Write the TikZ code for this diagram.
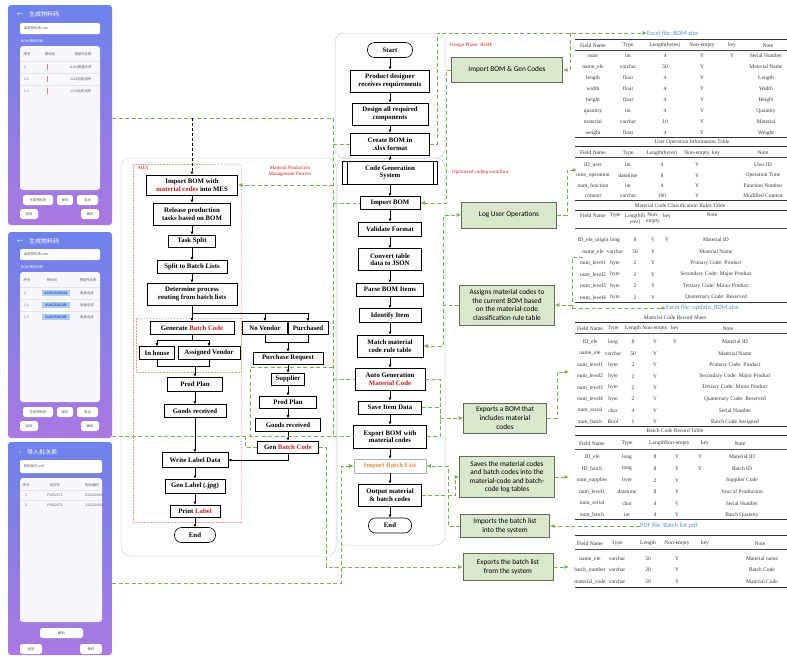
\documentclass[tikz,border=0pt]{standalone}
\usepackage{fontspec}
\setmainfont{Liberation Serif}
\newfontfamily\notesans{Carlito}
\newfontfamily\cjk{Noto Sans CJK SC}
\usetikzlibrary{arrows.meta,positioning}

\definecolor{linkgreen}{RGB}{120,178,80}
\definecolor{notefill}{RGB}{218,231,204}
\definecolor{noteedge}{RGB}{96,112,84}
\definecolor{tagred}{RGB}{196,30,30}
\definecolor{mesdot}{RGB}{232,160,150}
\definecolor{regionblue}{RGB}{196,210,224}
\definecolor{fileblue}{RGB}{90,150,210}
\definecolor{batchorange}{RGB}{226,140,60}
\definecolor{tabgray}{RGB}{55,55,55}
\definecolor{phonetop}{RGB}{110,130,235}
\definecolor{phonebot}{RGB}{170,120,225}
\definecolor{codeblue}{RGB}{170,205,240}

\tikzset{
  flowbox/.style={draw=black,line width=0.6pt,fill=white,align=center,inner sep=0.5pt,font=\bfseries\fontsize{6.8}{7.6}\selectfont},
  termbox/.style={flowbox,rounded corners=7pt},
  notebox/.style={draw=noteedge,fill=notefill,line width=0.7pt,align=center,inner sep=1pt,font=\notesans\fontsize{7.3}{8.6}\selectfont},
  flow/.style={-{Latex[length=3pt,width=2.8pt]},line width=0.6pt},
  link/.style={draw=linkgreen,line width=0.7pt,dash pattern=on 4pt off 2.5pt},
  linkarrow/.style={link,-{Latex[length=4.5pt,width=4pt]}},
  region/.style={draw=regionblue,line width=0.5pt,rounded corners=9pt},
  mesframe/.style={draw=mesdot,line width=0.6pt,dash pattern=on 1.5pt off 1.5pt},
  tabcell/.style={inner sep=0pt,text=tabgray,align=center,font=\fontsize{5.5}{6}\selectfont},
  tabrule/.style={draw=black!80,line width=0.8pt},
  tabthin/.style={draw=black!70,line width=0.4pt},
  redtag/.style={inner sep=0pt,text=tagred,font=\fontsize{5}{5.8}\selectfont,align=center},
  filetag/.style={inner sep=0pt,anchor=west,text=fileblue,font=\notesans\fontsize{6.5}{7.5}\selectfont},
  phone/.style={top color=phonetop,bottom color=phonebot,rounded corners=3pt},
  phonebtn/.style={fill=white,rounded corners=2.5pt},
  phonetext/.style={inner sep=0pt,text=black!65,font=\cjk\fontsize{3.4}{4}\selectfont},
  phonehead/.style={inner sep=0pt,anchor=west,text=white,font=\cjk\fontsize{6}{7}\selectfont}
}

\begin{document}
\begin{tikzpicture}[x=1pt,y=-1pt]
\path[use as bounding box] (0,0) rectangle (787,657);
\fill[white] (0,0) rectangle (787,657);
\clip (0,0) rectangle (787,657);

% phone 1
\shade[phone] (8,5) rectangle (112,225);
\node[phonehead] (p1head) at (17,14) {←\hspace{6pt}生成物料码};
\fill[white,rounded corners=2pt] (20,23) rectangle (100,34);
\node[phonetext,anchor=west] (p1file) at (24,28.5) {装配物料表.xlsx};
\node[phonetext,anchor=west,text=white] (p1cap) at (21,41) {BOM 物料列表};
\fill[white!94!phonetop,rounded corners=3pt] (20,46) rectangle (100,190);
\node[phonetext] (p1h1) at (27,54) {序号};
\node[phonetext] (p1h2) at (50,54) {物料码};
\node[phonetext] (p1h3) at (83,54) {零部件名称};
\foreach \y/\n/\p [count=\i] in {67/1/A101底盘总成,79/1.1/1101前轮组件,91/1.2/1102后轮组件}{
  \draw[black!10] (20,\y-6) -- (100,\y-6);
  \node[phonetext,anchor=west] (p1n\i) at (24,\y) {\n};
  \fill[red!55] (46.5,\y-3) rectangle (48,\y+3);
  \node[phonetext,anchor=west] (p1p\i) at (70,\y) {\p};
}
\fill[phonebtn] (23,195) rectangle (53,205); \node[phonetext] (p1b1) at (38,200) {生成物料码};
\fill[phonebtn] (57,195) rectangle (73,205); \node[phonetext] (p1b2) at (65,200) {保存};
\fill[phonebtn] (77,195) rectangle (98,205); \node[phonetext] (p1b3) at (87.5,200) {导出};
\fill[phonebtn] (20,209) rectangle (38,219); \node[phonetext] (p1b4) at (29,214) {返回};
\fill[phonebtn] (81,209) rectangle (99,219); \node[phonetext] (p1b5) at (90,214) {确定};

% phone 2
\shade[phone] (8,232) rectangle (112,438);
\node[phonehead] (p2head) at (17,241) {←\hspace{6pt}生成物料码};
\fill[white,rounded corners=2pt] (20,249) rectangle (100,260);
\node[phonetext,anchor=west] (p2file) at (24,254.5) {装配物料表.xlsx};
\node[phonetext,anchor=west,text=white] (p2cap) at (21,267) {BOM 物料列表};
\fill[white!94!phonetop,rounded corners=3pt] (20,272) rectangle (100,402);
\node[phonetext] (p2h1) at (27,280) {序号};
\node[phonetext] (p2h2) at (52,280) {物料码};
\node[phonetext] (p2h3) at (88,280) {零部件名称};
\foreach \y/\n/\c [count=\i] in {293/1/A0101010100A,305/1.1/01A0250001B,317/1.2/01A0250002B}{
  \draw[black!10] (20,\y-6) -- (100,\y-6);
  \node[phonetext,anchor=west] (p2n\i) at (24,\y) {\n};
  \fill[codeblue] (42,\y-3) rectangle (70,\y+3);
  \node[phonetext,text=blue!60!black] (p2c\i) at (56,\y) {\c};
  \node[phonetext,anchor=west] (p2p\i) at (80,\y) {底盘总成};
}
\fill[phonebtn] (23,407) rectangle (53,417); \node[phonetext] (p2b1) at (38,412) {生成物料码};
\fill[phonebtn] (57,407) rectangle (73,417); \node[phonetext] (p2b2) at (65,412) {保存};
\fill[phonebtn] (77,407) rectangle (98,417); \node[phonetext] (p2b3) at (87.5,412) {导出};
\fill[phonebtn] (20,421) rectangle (38,431); \node[phonetext] (p2b4) at (29,426) {返回};
\fill[phonebtn] (81,421) rectangle (99,431); \node[phonetext] (p2b5) at (90,426) {确定};

% phone 3
\shade[phone] (8,442) rectangle (112,655);
\node[phonehead] (p3head) at (19,452) {‹\hspace{6pt}导入批次表};
\fill[white,rounded corners=2pt] (20,460) rectangle (102,473);
\node[phonetext,anchor=west] (p3file) at (24,466.5) {物料批次.pdf};
\fill[white!94!phonetop,rounded corners=3pt] (20,478) rectangle (102,622);
\node[phonetext] (p3h1) at (26,485) {序号};
\node[phonetext] (p3h2) at (55,485) {批次号};
\node[phonetext] (p3h3) at (92,485) {物料编码};
\foreach \y/\n [count=\i] in {495/1,505/2}{
  \draw[black!10] (20,\y-5) -- (102,\y-5);
  \node[phonetext] (p3n\i) at (26,\y) {\n};
  \node[phonetext] (p3b\i) at (55,\y) {P1602571};
  \node[phonetext,anchor=west] (p3m\i) at (85,\y) {2302290001};
}
\fill[phonebtn] (40,628) rectangle (83,638); \node[phonetext] (p3k1) at (61.5,633) {解析};
\fill[phonebtn] (20,644) rectangle (42,654); \node[phonetext] (p3k2) at (31,649) {返回};
\fill[phonebtn] (80,644) rectangle (102,654); \node[phonetext] (p3k3) at (91,649) {保存};

% regions
\draw[region] (335,33) rectangle (445,158);
\draw[region] (337,158) rectangle (445,545);
\draw[region] (121,158) rectangle (336,556);
\draw[mesframe] (133,164) rectangle (241,522);
\draw[mesframe] (136,318) rectangle (241,372);

\node[redtag,anchor=west] (mestag) at (138,168) {MES};
\node[redtag] (mpmtag) at (290,171) {Material Production\\Management Process};
\node[redtag,anchor=west] (designtag) at (450,45) {Design Phase: BOM};
\node[redtag,anchor=west] (opttag) at (452,172) {Optimized coding workflow};

% design and code generation column
\node[termbox,minimum width=45pt,minimum height=15pt] (start) at (390,50) {Start};
\node[flowbox,minimum width=79pt,minimum height=22pt] (designer) at (390,81) {Product designer\\receives requirements};
\node[flowbox,minimum width=76pt,minimum height=22pt] (design) at (390,114) {Design all required\\components};
\node[flowbox,minimum width=79pt,minimum height=22pt] (create) at (390,144) {Create BOM in\\.xlsx format};
\node[flowbox,minimum width=95pt,minimum height=23pt] (codegen) at (390,172.5) {Code Generation\\System};
\draw[line width=0.6pt] ([xshift=5pt]codegen.north west) -- ([xshift=5pt]codegen.south west);
\draw[line width=0.6pt] ([xshift=-5pt]codegen.north east) -- ([xshift=-5pt]codegen.south east);
\node[flowbox,minimum width=60pt,minimum height=13pt] (importbom) at (390,203) {Import BOM};
\node[flowbox,minimum width=63pt,minimum height=14pt] (validate) at (390,229) {Validate Format};
\node[flowbox,minimum width=63pt,minimum height=22pt] (convert) at (390,259.5) {Convert table\\data to JSON};
\node[flowbox,minimum width=67pt,minimum height=13pt] (parse) at (390,289.5) {Parse BOM Items};
\node[flowbox,minimum width=62pt,minimum height=14pt] (identify) at (390,315.5) {Identify Item};
\node[flowbox,minimum width=66pt,minimum height=22pt] (match) at (390,346) {Match material\\code rule table};
\node[flowbox,minimum width=70pt,minimum height=22pt] (autogen) at (390,379) {Auto Generation\\\textcolor{tagred}{Material Code}};
\node[flowbox,minimum width=63pt,minimum height=13pt] (save) at (390,407.5) {Save Item Data};
\node[flowbox,minimum width=73pt,minimum height=23pt] (export) at (390,436.5) {Export BOM with\\material codes};
\node[flowbox,draw=black!30,text=batchorange,minimum width=72pt,minimum height=14pt] (importbatch) at (390,466) {Import Batch List};
\node[flowbox,minimum width=63pt,minimum height=22pt] (output) at (390,495) {Output material\\\& batch codes};
\node[termbox,minimum width=43pt,minimum height=15pt] (end) at (390,525.5) {End};
\foreach \a/\b in {start/designer,designer/design,design/create,create/codegen,codegen/importbom,importbom/validate,validate/convert,convert/parse,parse/identify,identify/match,match/autogen,autogen/save,save/export,export/importbatch,importbatch/output,output/end}
  \draw[flow] (\a) -- (\b);

% MES column
\node[flowbox,minimum width=91pt,minimum height=20pt] (mesimport) at (192,185) {Import BOM with\\\textcolor{tagred}{material codes} into MES};
\node[flowbox,minimum width=77pt,minimum height=22pt] (release) at (192,214) {Release production\\tasks based on BOM};
\node[flowbox,minimum width=47pt,minimum height=12pt] (tasksplit) at (192,241) {Task Split};
\node[flowbox,minimum width=70pt,minimum height=13pt] (splitbatch) at (192,267) {Split to Batch Lists};
\node[flowbox,minimum width=90pt,minimum height=22pt] (routing) at (192,294) {Determine process\\routing from batch lists};
\node[flowbox,minimum width=84pt,minimum height=13pt] (genbatch) at (192,328) {Generate \textcolor{tagred}{Batch Code}};
\node[flowbox,minimum width=45pt,minimum height=13pt] (novendor) at (265,328) {No Vendor};
\node[flowbox,minimum width=40pt,minimum height=13pt] (purchased) at (308,328) {Purchased};
\node[flowbox,minimum width=35pt,minimum height=13pt] (inhouse) at (157,353) {In house};
\node[flowbox,minimum width=62pt,minimum height=13pt] (assigned) at (209,353) {Assigned Vendor};
\node[flowbox,minimum width=55pt,minimum height=14pt] (prodplanL) at (195,384) {Prod Plan};
\node[flowbox,minimum width=62pt,minimum height=13pt] (goodsL) at (195,411) {Goods received};
\node[flowbox,minimum width=70pt,minimum height=12pt] (purchase) at (288,358) {Purchase Request};
\node[flowbox,minimum width=33pt,minimum height=12pt] (supplier) at (288,379) {Supplier};
\node[flowbox,minimum width=57pt,minimum height=12pt] (prodplanR) at (288,402) {Prod Plan};
\node[flowbox,minimum width=65pt,minimum height=13pt] (goodsR) at (288,425) {Goods received};
\node[flowbox,minimum width=61pt,minimum height=12pt] (genbatchR) at (288,447) {Gen \textcolor{tagred}{Batch Code}};
\node[flowbox,minimum width=66pt,minimum height=15pt] (writelabel) at (195,460) {Write Label Data};
\node[flowbox,minimum width=60pt,minimum height=14pt] (genlabel) at (195,486) {Gen Label (.jpg)};
\node[flowbox,minimum width=50pt,minimum height=12pt] (printlabel) at (195,511) {Print \textcolor{tagred}{Label}};
\node[termbox,minimum width=41pt,minimum height=15pt] (mesend) at (195,535) {End};
\foreach \a/\b in {mesimport/release,release/tasksplit,tasksplit/splitbatch,splitbatch/routing,prodplanL/goodsL,goodsL/writelabel,purchase/supplier,supplier/prodplanR,prodplanR/goodsR,goodsR/genbatchR,writelabel/genlabel,genlabel/printlabel,printlabel/mesend}
  \draw[flow] (\a) -- (\b);
\draw[line width=0.6pt] (routing.south) -- (192,313) -- (308,313);
\draw[flow] (192,313) -- (genbatch.north);
\draw[flow] (265,313) -- (novendor.north);
\draw[flow] (308,313) -- (purchased.north);
\draw[line width=0.6pt] (genbatch.south) -- (192,340) (157,340) -- (209,340);
\draw[flow] (157,340) -- (inhouse.north);
\draw[flow] (209,340) -- (assigned.north);
\draw[line width=0.6pt] (inhouse.south) -- (157,366) -- (209,366) -- (assigned.south);
\draw[flow] (195,366) -- (prodplanL.north);
\draw[line width=0.6pt] (novendor.south) -- (265,342) -- (308,342) -- (purchased.south);
\draw[flow] (288,342) -- (purchase.north);
\draw[flow] (genbatchR.south) |- (writelabel.east);

% system function notes
\node[notebox,minimum width=111pt,minimum height=25pt] (importgen) at (507,70) {Import BOM \& Gen Codes};
\node[notebox,minimum width=95pt,minimum height=26pt] (logops) at (509,215) {Log User Operations};
\node[notebox,minimum width=95pt,minimum height=40pt] (assign) at (507,305) {Assigns material codes to\\the current BOM based\\on the material-code\\classification rule table};
\node[notebox,minimum width=83pt,minimum height=30pt] (exportsbom) at (505,418) {Exports a BOM that\\includes material\\codes};
\node[notebox,minimum width=95pt,minimum height=41pt] (saves) at (507,477) {Saves the material codes\\and batch codes into the\\material-code and batch-\\code log tables};
\node[notebox,minimum width=89pt,minimum height=23pt] (importsbatch) at (505,526) {Imports the batch list\\into the system};
\node[notebox,minimum width=90pt,minimum height=27pt] (exportsbatch) at (508,567) {Exports the batch list\\from the system};

\node[filetag] (bomfile) at (647,33) {Excel file:\ BOM.xlsx};
\node[filetag] (updatafile) at (666,308) {Excel file:\ updata\_BOM.xlsx};
\node[filetag] (pdffile) at (640,526) {PDF file:\ Batch list.pdf};

% dashed data links
\coordinate (p1port) at (112,118);
\coordinate (p2port) at (112,436.5);
\coordinate (p3port) at (112,583);
\coordinate (busTop) at (333,118);
\coordinate (busBot) at (333,436.5);
\coordinate (mestap) at (192,118);
\coordinate (suploop) at (250,367);
\coordinate (gbturn) at (326,567);
\coordinate (ibturn) at (341,583);
\coordinate (bomcorner) at (437,33);
\coordinate (bomsplit) at (570,33);
\coordinate (cbus) at (443.5,305);
\coordinate (dbus) at (440,418);
\coordinate (ctap) at (572,308);
\coordinate (t2port) at (577,170);
\coordinate (t3port) at (583,257);
\coordinate (t4port) at (569,372);
\coordinate (t5port) at (569,477);
\coordinate (t6port) at (569,567);
\draw[link] (p1port) -- (busTop) -- (busBot);
\draw[link] (p2port) -- (export.west);
\draw[link] (busTop |- create.west) -- (create.west);
\draw[link] (busTop |- importbom.west) -- (importbom.west);
\draw[linkarrow] (busTop |- mesimport.east) -- (mesimport.east);
\draw[link] (busTop |- autogen.west) -- (autogen.west);
\draw[link] (busTop |- suploop) -- (suploop) -- (suploop |- p2port);
\draw[flow,densely dashed] (mestap) -- (mesimport.north);
\draw[link] (genbatchR.west) -| (245,436.5);
\draw[linkarrow] (genbatchR.east) -| (gbturn) -- (exportsbatch.west);
\draw[linkarrow] (p3port) -- (ibturn) |- (importbatch.west);
\draw[linkarrow] (create.east) -| (bomcorner) -- (bomfile.west);
\draw[linkarrow] (bomsplit) |- (importgen.east);
\draw[linkarrow] (importgen.west) -- ++(-5,0) |- (importbom.east);
\draw[linkarrow] (assign.west) -- (cbus) |- (match.east);
\draw[linkarrow] (cbus) |- (logops.west);
\draw[linkarrow] (logops.east) -- ++(10,0) |- (t2port);
\draw[link] (t3port) -- (t3port -| ctap) -- (ctap);
\draw[linkarrow] (ctap |- assign.east) -- (assign.east);
\draw[linkarrow] (ctap) -- (updatafile.west);
\draw[link] (autogen.east) -| (dbus);
\draw[link] (save.east) -| (dbus);
\draw[link] (export.east) -| (dbus);
\draw[linkarrow] (dbus) -- (exportsbom.west);
\draw[linkarrow] (exportsbom.east) -- ++(10,0) |- (t4port);
\draw[linkarrow] (output.east) -- ++(34,0) |- (saves.west);
\draw[linkarrow] (importsbatch.west) -- ++(-12,0) |- (importbatch.east);
\draw[linkarrow] (pdffile.west) -- (importsbatch.east);
\draw[linkarrow] (saves.east) -- (t5port);
\draw[linkarrow] (exportsbatch.east) -- (t6port);

% table: BOM.xlsx
\draw[tabrule] (575,39) -- (787,39);
\foreach \x/\h [count=\i] in {593/Field Name,628/Type,665/Length(bytes),702/Non-empty,732/key,768/Note}
  \node[tabcell] (bomhead\i) at (\x,45.5) {\h};
\draw[tabthin] (575,50) -- (787,50);
\foreach \y/\fa/\fb/\fc/\fd/\fe/\ff [count=\i] in {56/num/int/4/Y/Y/Serial Number,67/name\_ele/varchar/50/Y/{}/Material Name,78/length/float/4/Y/{}/Length,89/width/float/4/Y/{}/Width,100/height/float/4/Y/{}/Height,111/quantity/int/4/Y/{}/Quantity,122/material/varchar/10/Y/{}/Material,133/weight/float/4/Y/{}/Weight}{
  \node[tabcell] (bom-\i-1) at (593,\y) {\fa};
  \node[tabcell] (bom-\i-2) at (628,\y) {\fb};
  \node[tabcell] (bom-\i-3) at (665,\y) {\fc};
  \node[tabcell] (bom-\i-4) at (702,\y) {\fd};
  \node[tabcell] (bom-\i-5) at (732,\y) {\fe};
  \node[tabcell] (bom-\i-6) at (766,\y) {\ff};
}
\draw[tabrule] (575,137) -- (787,137);

% table: user operations
\node[tabcell] (uocap) at (692,142) {User Operation Information Table};
\draw[tabrule] (575,146.5) -- (787,146.5);
\foreach \x/\h [count=\i] in {593/Field Name,628/Type,662/Length(bytes),697/Non-empty,716/key,763/Note}
  \node[tabcell] (uohead\i) at (\x,153) {\h};
\draw[tabthin] (575,157.5) -- (787,157.5);
\foreach \y/\fa/\fb/\fc/\fd/\ff [count=\i] in {165/ID\_user/int/4/Y/User ID,175.5/time\_operation/datetime/8/Y/Operation Time,186/num\_function/int/4/Y/Function Number,196/content/varchar/100/Y/Modified Content}{
  \node[tabcell] (uo-\i-1) at (593,\y) {\fa};
  \node[tabcell] (uo-\i-2) at (628,\y) {\fb};
  \node[tabcell] (uo-\i-3) at (662,\y) {\fc};
  \node[tabcell] (uo-\i-4) at (697,\y) {\fd};
  \node[tabcell] (uo-\i-6) at (763,\y) {\ff};
}
\draw[tabrule] (575,200.5) -- (787,200.5);

% table: classification rules
\node[tabcell] (mccap) at (680,205.5) {Material Code Classification Rules Table};
\draw[tabrule] (575,210) -- (787,210);
\foreach \x/\h [count=\i] in {593/Field Name,615/Type,635/Length(b\\ytes),653/Non-\\empty,667/key,712/Note}
  \node[tabcell,anchor=north] (mchead\i) at (\x,213) {\h};
\draw[tabthin] (575,228.5) -- (787,228.5);
\foreach \y/\fa/\fb/\fc/\fd/\fe/\ff [count=\i] in {240/ID\_ele\_origin/long/8/Y/Y/Material ID,251.5/name\_ele/varchar/50/Y/{}/Material Name,263/num\_level1/byte/2/Y/{}/Primary Code: Product,274.5/num\_level2/byte/2/Y/{}/Secondary Code: Major Product,286/num\_level3/byte/2/Y/{}/Tertiary Code: Minor Product,297.5/num\_level4/byte/2/Y/{}/Quaternary Code: Reserved}{
  \node[tabcell] (mc-\i-1) at (593,\y) {\fa};
  \node[tabcell] (mc-\i-2) at (615,\y) {\fb};
  \node[tabcell] (mc-\i-3) at (635,\y) {\fc};
  \node[tabcell] (mc-\i-4) at (653,\y) {\fd};
  \node[tabcell] (mc-\i-5) at (667,\y) {\fe};
  \node[tabcell] (mc-\i-6) at (716,\y) {\ff};
}
\draw[tabrule] (575,302) -- (787,302);

% table: material code record
\node[tabcell] (mrcap) at (675,317.5) {Material Code Record Sheet};
\draw[tabrule] (575,322) -- (787,322);
\foreach \x/\h [count=\i] in {590/Field Name,613/Type,633/Length,655/Non-empty,675/key,728/Note}
  \node[tabcell] (mrhead\i) at (\x,328.5) {\h};
\draw[tabthin] (575,333.5) -- (787,333.5);
\foreach \y/\fa/\fb/\fc/\fd/\fe/\ff [count=\i] in {342/ID\_ele/long/8/Y/Y/Material ID,353.4/name\_ele/varchar/50/Y/{}/Material Name,364.8/num\_level1/byte/2/Y/{}/Primary Code: Product,376.2/num\_level2/byte/2/Y/{}/Secondary Code: Major Product,387.6/num\_level3/byte/2/Y/{}/Tertiary Code: Minor Product,399/num\_level4/byte/2/Y/{}/Quaternary Code: Reserved,410.4/num\_serial/char/4/Y/{}/Serial Number,421.8/num\_batch/Bool/1/Y/{}/Batch Code Assigned}{
  \node[tabcell] (mr-\i-1) at (590,\y) {\fa};
  \node[tabcell] (mr-\i-2) at (613,\y) {\fb};
  \node[tabcell] (mr-\i-3) at (633,\y) {\fc};
  \node[tabcell] (mr-\i-4) at (655,\y) {\fd};
  \node[tabcell] (mr-\i-5) at (675,\y) {\fe};
  \node[tabcell] (mr-\i-6) at (735,\y) {\ff};
}
\draw[tabrule] (575,426) -- (787,426);

% table: batch code record
\node[tabcell] (bccap) at (675,431) {Batch Code Record Table};
\draw[tabrule] (575,435.5) -- (787,435.5);
\foreach \x/\h [count=\i] in {592/Field Name,627/Type,657/Length,677/Non-empty,705/key,740/Note}
  \node[tabcell] (bchead\i) at (\x,443.5) {\h};
\draw[tabthin] (575,449) -- (787,449);
\foreach \y/\fa/\fb/\fc/\fd/\fe/\ff [count=\i] in {457/ID\_ele/long/8/Y/Y/Material ID,468.6/ID\_batch/long/8/Y/Y/Batch ID,480.2/num\_supplier/byte/2/Y/{}/Supplier Code,491.8/num\_level1/datetime/8/Y/{}/Year of Production,503.4/num\_serial/char/4/Y/{}/Serial Number,515/num\_batch/int/4/Y/{}/Batch Quantity}{
  \node[tabcell] (bc-\i-1) at (592,\y) {\fa};
  \node[tabcell] (bc-\i-2) at (627,\y) {\fb};
  \node[tabcell] (bc-\i-3) at (655,\y) {\fc};
  \node[tabcell] (bc-\i-4) at (677,\y) {\fd};
  \node[tabcell] (bc-\i-5) at (700,\y) {\fe};
  \node[tabcell] (bc-\i-6) at (742,\y) {\ff};
}
\draw[tabrule] (575,519.5) -- (787,519.5);

% table: batch list
\draw[tabrule] (575,535) -- (787,535);
\foreach \x/\h [count=\i] in {590/Field Name,617/Type,648/Length,677/Non-empty,705/key,760/Note}
  \node[tabcell] (blhead\i) at (\x,543.5) {\h};
\draw[tabthin] (575,549.5) -- (787,549.5);
\foreach \y/\fa/\fb/\fc/\fd/\ff [count=\i] in {558.5/name\_ele/varchar/50/Y/Material name,570/batch\_number/varchar/20/Y/Batch Code,581.5/material\_code/varchar/50/Y/Material Code}{
  \node[tabcell] (bl-\i-1) at (590,\y) {\fa};
  \node[tabcell] (bl-\i-2) at (617,\y) {\fb};
  \node[tabcell] (bl-\i-3) at (648,\y) {\fc};
  \node[tabcell] (bl-\i-4) at (677,\y) {\fd};
  \node[tabcell] (bl-\i-6) at (762,\y) {\ff};
}
\draw[tabrule] (575,587) -- (787,587);
\end{tikzpicture}
\end{document}
